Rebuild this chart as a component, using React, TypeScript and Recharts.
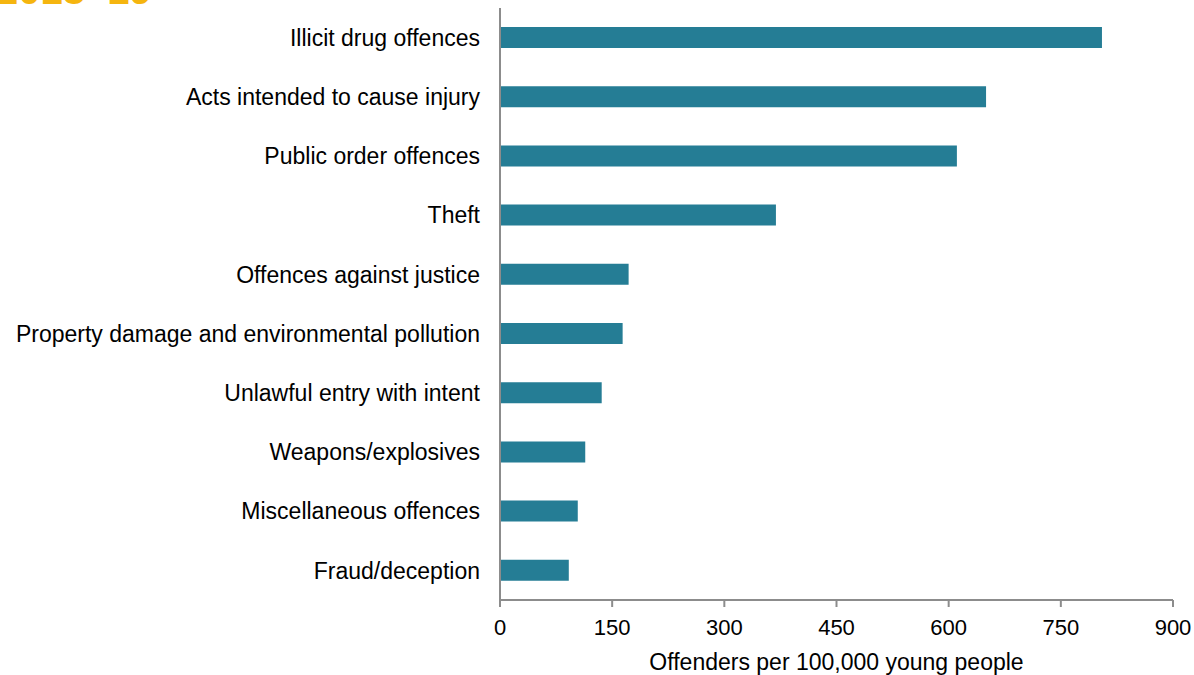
import React from 'react';
import { BarChart, Bar, XAxis, YAxis } from 'recharts';

const categories = [
  'Illicit drug offences',
  'Acts intended to cause injury',
  'Public order offences',
  'Theft',
  'Offences against justice',
  'Property damage and environmental pollution',
  'Unlawful entry with intent',
  'Weapons/explosives',
  'Miscellaneous offences',
  'Fraud/deception',
];
const values = [805, 650, 611, 369, 172, 164, 136, 114, 104, 92];
const xTicks = [0, 150, 300, 450, 600, 750, 900];

const data = categories.map((c, i) => ({ name: c, value: values[i] }));

const FONT = 'Liberation Sans, Arial, sans-serif';

export default function App() {
  return (
    <div style={{ position: 'absolute', left: 0, top: 0, width: 1194, height: 675, background: '#fff', overflow: 'hidden' }}>
      <div style={{ position: 'absolute', left: -4, top: -33, lineHeight: '46px', fontFamily: FONT, fontWeight: 700, fontSize: 40, color: '#F5B50F', whiteSpace: 'nowrap' }}>
        2018–19
      </div>
      <BarChart
        width={1194}
        height={675}
        data={data}
        layout="vertical"
        margin={{ top: 8, right: 21, bottom: 0, left: 0 }}
        barSize={21}
      >
        <XAxis
          type="number"
          domain={[0, 900]}
          ticks={xTicks}
          interval={0}
          height={75}
          axisLine={{ stroke: '#8c8c8c', strokeWidth: 2 }}
          tickLine={{ stroke: '#8c8c8c', strokeWidth: 2 }}
          tickSize={7}
          tickMargin={12}
          tick={{ fill: '#000', fontSize: 22, fontFamily: FONT }}
          label={{ value: 'Offenders per 100,000 young people', position: 'insideBottom', offset: 5, fill: '#000', fontSize: 23, fontFamily: FONT }}
        />
        <YAxis
          type="category"
          dataKey="name"
          width={500}
          axisLine={{ stroke: '#8c8c8c', strokeWidth: 2 }}
          tickLine={false}
          tickMargin={14}
          interval={0}
          tick={{ fill: '#000', fontSize: 23, fontFamily: FONT }}
        />
        <Bar dataKey="value" fill="#257D95" isAnimationActive={false} />
      </BarChart>
    </div>
  );
}
